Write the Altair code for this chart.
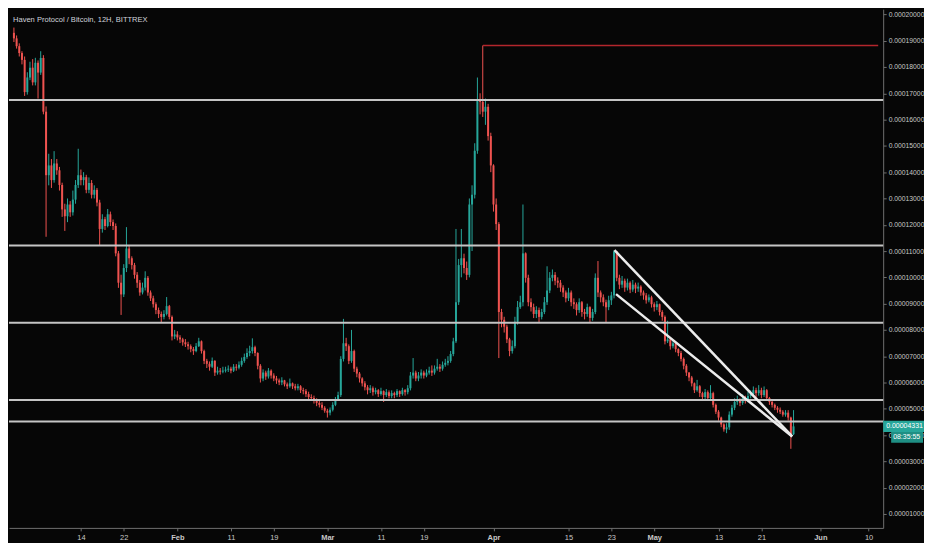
import altair as alt
import pandas as pd

TITLE = "Haven Protocol / Bitcoin, 12H, BITTREX"
START = "2019-01-01 12:00"   # first 12H candle
FIRST_OPEN = 19300           # satoshi

# 12H candles, prices in satoshi (1e-8 BTC)
CLOSE = [
    19089, 18792, 18531, 18271, 17045, 17602, 17974, 17416, 18160, 17788,
    18345, 16301, 13885, 14257, 13699, 14331, 14071, 13513, 12584, 12324,
    12770, 12473, 12956, 13513, 13885, 13699, 13811, 13327, 13588, 13142,
    13327, 12844, 11841, 12212, 11952, 12398, 12101, 11952, 10912, 9796,
    9350, 10354, 11097, 10726, 10466, 10094, 9796, 9424, 9610, 9982,
    9424, 9202, 8978, 8755, 8607, 8495, 8607, 8904, 8495, 7752,
    7827, 7715, 7641, 7529, 7455, 7381, 7269, 7195, 7381, 7566,
    7195, 6823, 6711, 6600, 6823, 6377, 6451, 6414, 6451, 6489,
    6526, 6451, 6600, 6563, 6674, 6823, 6972, 7121, 7195, 7344,
    7121, 6637, 6154, 6377, 6228, 6451, 6265, 6154, 6080, 6005,
    6080, 5931, 5857, 5968, 5857, 5782, 5857, 5708, 5671, 5559,
    5448, 5411, 5299, 5225, 5150, 5039, 4927, 4853, 4964, 5150,
    5336, 5522, 6897, 7492, 7381, 6823, 7195, 6526, 6340, 6154,
    5968, 5819, 5708, 5782, 5633, 5708, 5559, 5671, 5522, 5633,
    5485, 5596, 5522, 5671, 5559, 5708, 5633, 5782, 6265, 6377,
    6154, 6265, 6377, 6265, 6377, 6451, 6377, 6526, 6600, 6526,
    6674, 6749, 6823, 7083, 7566, 9053, 10466, 10726, 10354, 10094,
    12770, 13142, 14814, 16784, 16673, 16301, 16487, 15372, 14257, 12770,
    12026, 8681, 8384, 8123, 7641, 7195, 7381, 8310, 8867, 9053,
    10912, 9982, 9053, 8867, 8607, 8755, 8495, 8681, 9053, 9499,
    9982, 10094, 9871, 9796, 9610, 9424, 9202, 9424, 9053, 8978,
    8755, 9053, 8681, 8607, 8867, 8458, 8681, 9982, 9424, 9239,
    9053, 8867, 9128, 9313, 10986, 9982, 9722, 9871, 9610, 9796,
    9536, 9722, 9573, 9647, 9424, 9313, 9128, 9239, 8978, 8867,
    8978, 8681, 8495, 7566, 7641, 7381, 7492, 7269, 7121, 6897,
    6637, 6377, 6191, 5968, 5708, 5857, 5596, 5448, 5633, 5411,
    5596, 5150, 4889, 4667, 4406, 4221, 4295, 4778, 5039, 5262,
    5336, 5225, 5411, 5336, 5485, 5559, 5708, 5596, 5708, 5522,
    5708, 5411, 5262, 5150, 5039, 4964, 4889, 4778, 4853, 4667,
    4035, 4331,
]
HIGH = [
    19500, 19200, 18900, 18600, 18400, 17800, 18200, 18300, 18350, 18250,
    18600, 18450, 16500, 14700, 14500, 14800, 14500, 14200, 13600, 12800,
    13000, 12900, 13300, 13700, 14890, 14100, 14000, 13900, 13800, 13700,
    13500, 13400, 12950, 12400, 12300, 12600, 12500, 12200, 12050, 11000,
    10100, 10500, 11910, 11200, 10800, 10550, 10200, 9900, 9800, 10230,
    10050, 9500, 9300, 9050, 8850, 8700, 8750, 9250, 8950, 8550,
    8000, 7950, 7800, 7700, 7650, 7550, 7450, 7350, 7500, 7700,
    7600, 7250, 6900, 6800, 6950, 6850, 6600, 6550, 6600, 6600,
    6650, 6600, 6700, 6700, 6800, 6950, 7100, 7300, 7400, 7680,
    7400, 7150, 6700, 6500, 6450, 6550, 6500, 6350, 6250, 6150,
    6200, 6100, 6000, 6150, 6000, 5950, 5950, 5900, 5800, 5750,
    5650, 5550, 5500, 5400, 5300, 5250, 5100, 5000, 5050, 5250,
    5450, 5650, 7000, 8420, 7700, 7450, 8000, 7250, 6600, 6400,
    6200, 6050, 5900, 5900, 5850, 5800, 5750, 5800, 5700, 5750,
    5700, 5700, 5650, 5750, 5700, 5800, 5750, 5900, 6400, 6930,
    6450, 6400, 6500, 6450, 6500, 6600, 6650, 6650, 6900, 6700,
    6800, 6900, 7000, 7200, 7700, 11840, 10700, 11840, 10900, 10600,
    13000, 13500, 15100, 17600, 17000, 18820, 16800, 16600, 15500, 14300,
    13000, 12100, 8800, 8500, 8200, 7700, 7600, 8500, 9100, 9300,
    12770, 10950, 10100, 9200, 9000, 8900, 8850, 8800, 9250, 10420,
    10200, 10300, 10200, 10000, 9900, 9700, 9500, 9600, 9500, 9200,
    9050, 9200, 9100, 8800, 9000, 8900, 8800, 10150, 10620, 9500,
    9350, 9150, 9300, 9450, 11030, 11000, 10100, 10050, 9950, 9950,
    9850, 9900, 9800, 9800, 9700, 9500, 9400, 9350, 9300, 9050,
    9100, 9000, 8750, 8550, 8350, 7700, 7600, 7550, 7300, 7200,
    6950, 6700, 6400, 6250, 6000, 6100, 5900, 5650, 5750, 5700,
    5900, 5650, 5200, 4950, 4700, 4450, 4450, 4900, 5150, 5400,
    5500, 5400, 5550, 5500, 5650, 5700, 5850, 5800, 5900, 5800,
    5850, 5750, 5450, 5300, 5200, 5100, 5050, 4950, 4950, 4950,
    4700, 4950,
]
LOW = [
    18950, 18700, 18400, 18100, 16900, 16950, 17500, 17300, 17300, 16800,
    17700, 16200, 11543, 13500, 13400, 13600, 13900, 13300, 12300, 11766,
    12100, 12300, 12350, 12800, 13400, 13500, 13500, 13200, 13200, 13000,
    13000, 12700, 11210, 11700, 11800, 11900, 11950, 11800, 10800, 9600,
    8570, 9250, 10200, 10500, 10300, 9950, 9600, 9300, 9350, 9500,
    9300, 9100, 8850, 8600, 8450, 8300, 8400, 8550, 8400, 7600,
    7650, 7600, 7500, 7400, 7350, 7250, 7150, 7050, 7150, 7350,
    7100, 6700, 6550, 6450, 6550, 6250, 6300, 6300, 6350, 6380,
    6400, 6350, 6400, 6450, 6500, 6600, 6750, 6900, 7000, 7100,
    7000, 6500, 6000, 6050, 6100, 6150, 6150, 6050, 5950, 5900,
    5900, 5850, 5750, 5800, 5750, 5700, 5700, 5600, 5550, 5450,
    5300, 5300, 5200, 5100, 5050, 4950, 4850, 4667, 4750, 4900,
    5100, 5300, 5450, 6800, 7200, 6700, 6750, 6400, 6200, 6000,
    5850, 5700, 5550, 5600, 5500, 5550, 5450, 5500, 5260, 5450,
    5400, 5400, 5400, 5450, 5450, 5500, 5500, 5550, 5700, 6150,
    6050, 6050, 6150, 6150, 6200, 6300, 6250, 6300, 6450, 6400,
    6450, 6600, 6650, 6750, 7000, 7500, 8950, 10000, 10150, 9900,
    10000, 11000, 13000, 14700, 16200, 16100, 15800, 15200, 14000, 12500,
    11800, 6930, 8100, 7900, 7500, 7000, 7100, 7300, 8200, 8800,
    8900, 9800, 8900, 8700, 8450, 8450, 8300, 8400, 8600, 8950,
    9400, 9850, 9700, 9600, 9450, 9250, 9050, 9100, 8900, 8800,
    8550, 8650, 8500, 8400, 8500, 8300, 8350, 8600, 9250, 9050,
    8900, 8300, 8750, 8950, 9200, 9850, 9550, 9600, 9450, 9500,
    9400, 9450, 9400, 9450, 9300, 9150, 9000, 9050, 8850, 8700,
    8750, 8550, 8350, 7450, 7500, 7250, 7300, 7150, 7000, 6800,
    6500, 6250, 6050, 5850, 5600, 5650, 5450, 5300, 5350, 5300,
    5350, 5050, 4800, 4550, 4300, 4130, 4072, 4200, 4700, 4950,
    5150, 5100, 5150, 5200, 5250, 5400, 5500, 5450, 5500, 5400,
    5450, 5300, 5150, 5050, 4950, 4850, 4800, 4700, 4700, 4550,
    3478, 4000,
]

LEVELS = [16747, 11208, 8271, 5335, 4517]          # grey horizontal lines
RESIST_START = "2019-03-30T01:00:00Z"
RESIST = 18820                                     # red horizontal ray
WEDGE_T = ["2019-04-23T14:00:00Z", "2019-04-23T21:00:00Z"]
WEDGE_P = [11033, 9361]
WEDGE_END_T = "2019-05-26T18:00:00Z"
WEDGE_END_P = 3948
LAST_PRICE = 4331
LAST_LABEL = "0.00004331"
COUNTDOWN = "08:35:55"

X_TICKS = ["2019-01-14", "2019-01-22", "2019-02-01", "2019-02-11", "2019-02-19",
           "2019-03-01", "2019-03-11", "2019-03-19", "2019-04-01", "2019-04-15",
           "2019-04-23", "2019-05-01", "2019-05-13", "2019-05-21", "2019-06-01",
           "2019-06-10"]
Y_TICKS = [0.00001, 0.00002, 0.00003, 0.00004, 0.00005, 0.00006, 0.00007,
           0.00008, 0.00009, 0.00010, 0.00011, 0.00012, 0.00013, 0.00014,
           0.00015, 0.00016, 0.00017, 0.00018, 0.00019, 0.00020]
X_DOMAIN = ["2019-01-01T12:14:00Z", "2019-06-11T19:12:00Z"]
Y_DOMAIN = [0.0000047, 0.000202]

BULL = "#26a69a"
BEAR = "#ef5350"
BG = "#060606"
W, H = 878, 521

SAT = 1e-8


def ms(s):
    ts = pd.Timestamp(s)
    if ts.tzinfo is None:
        ts = ts.tz_localize("UTC")
    return int(ts.value // 10**6)


times = pd.date_range(START, periods=len(CLOSE), freq="12h", tz="UTC")
opens = [FIRST_OPEN] + CLOSE[:-1]
candles = pd.DataFrame({
    "t": times.strftime("%Y-%m-%dT%H:%M:%SZ"),
    "open": [v * SAT for v in opens],
    "close": [v * SAT for v in CLOSE],
    "high": [v * SAT for v in HIGH],
    "low": [v * SAT for v in LOW],
})
candles["dir"] = ["up" if c >= o else "down" for o, c in zip(opens, CLOSE)]

xscale = alt.Scale(type="utc", domain=[ms(d) for d in X_DOMAIN], nice=False)
yscale = alt.Scale(domain=Y_DOMAIN, nice=False, zero=False)
xaxis = alt.Axis(
    values=[ms(d) for d in X_TICKS],
    labelExpr="utcdate(datum.value) == 1 ? utcFormat(datum.value, '%b') : utcFormat(datum.value, '%-d')",
    labelFontWeight={"condition": {"test": "utcdate(datum.value) == 1", "value": "bold"}, "value": "normal"},
    tickSize=3, labelPadding=3, labelFontSize=7.5, grid=False, labelFlush=False,
)
yaxis = alt.Axis(orient="right", values=Y_TICKS, format=".8f", tickSize=3,
                 labelPadding=2, labelFontSize=6.8, grid=False)


def X(f):
    return alt.X(f"{f}:T", scale=xscale, axis=xaxis, title=None)


def Y(f):
    return alt.Y(f"{f}:Q", scale=yscale, axis=yaxis, title=None)


color = alt.Color("dir:N", scale=alt.Scale(domain=["up", "down"], range=[BULL, BEAR]), legend=None)

base = alt.Chart(candles)
wicks = base.mark_rule(strokeWidth=1).encode(x=X("t"), y=Y("low"), y2="high", color=color)
bodies = base.mark_bar(width=2).encode(x=X("t"), y=Y("open"), y2="close", color=color)

levels = alt.Chart(pd.DataFrame({"p": [v * SAT for v in LEVELS]})).mark_rule(
    color="#c4c4c4", strokeWidth=2).encode(y=Y("p"))

resist = alt.Chart(pd.DataFrame({"t": [RESIST_START], "t2": [X_DOMAIN[1]], "p": [RESIST * SAT]})).mark_rule(
    color="#b3262c", strokeWidth=1.5).encode(x=X("t"), x2="t2", y=Y("p"))

wedge = alt.Chart(pd.DataFrame({
    "t": WEDGE_T, "p": [v * SAT for v in WEDGE_P],
    "t2": [WEDGE_END_T, WEDGE_END_T], "p2": [WEDGE_END_P * SAT, WEDGE_END_P * SAT],
})).mark_rule(color="#ececec", strokeWidth=2.5).encode(x=X("t"), x2="t2", y=Y("p"), y2="p2")

last = pd.DataFrame({"p": [LAST_PRICE * SAT], "label": [LAST_LABEL], "cd": [COUNTDOWN]})
box_path = "M-1,-0.27L1,-0.27L1,0.27L-1,0.27Z"
price_box = alt.Chart(last).mark_point(shape=box_path, filled=True, opacity=1, size=41 * 41,
                                       color=BULL, strokeWidth=0).encode(
    x=alt.value(W + 20.5), y=Y("p"))
cd_box = alt.Chart(last).mark_point(shape="M-1,-0.34L1,-0.34L1,0.34L-1,0.34Z", filled=True, opacity=1,
                                    size=32 * 32, color="#1f8f84", strokeWidth=0, yOffset=11).encode(
    x=alt.value(W + 24), y=Y("p"))
price_txt = alt.Chart(last).mark_text(align="left", baseline="middle", color="#ffffff", fontSize=7,
                                      font="Liberation Sans").encode(
    x=alt.value(W + 3), y=Y("p"), text="label:N")
cd_txt = alt.Chart(last).mark_text(align="left", baseline="middle", color="#ffffff", fontSize=7,
                                   font="Liberation Sans", yOffset=11).encode(
    x=alt.value(W + 10), y=Y("p"), text="cd:N")

title = alt.Chart(pd.DataFrame({"t": [TITLE]})).mark_text(
    align="left", baseline="middle", color="#d1d4dc", fontSize=7.6, font="Liberation Sans").encode(
    x=alt.value(4), y=alt.value(11), text="t:N")

chart = alt.layer(
    wicks, bodies, levels, resist, wedge, price_box, cd_box, price_txt, cd_txt, title
).properties(width=W, height=H, padding=0, background=BG).configure_view(strokeWidth=0).configure_axis(
    domainColor="#6f6f6f", tickColor="#6f6f6f", labelColor="#c8c8c8", labelFont="Liberation Sans"
)

chart.save("out.html", embed_options={"renderer": "svg", "actions": False})
